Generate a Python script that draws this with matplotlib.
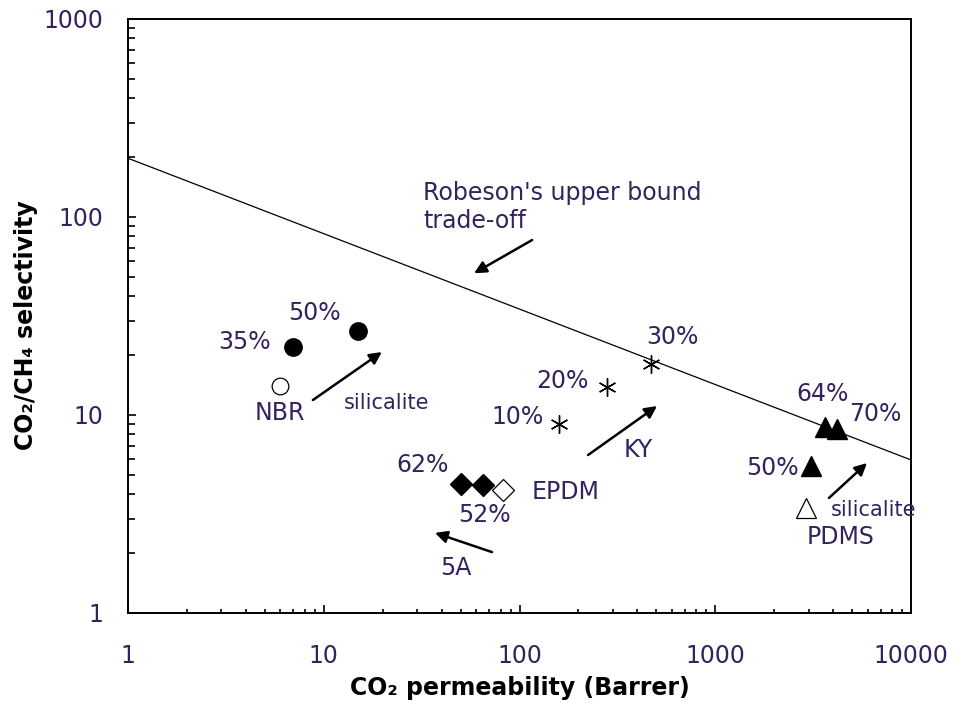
import matplotlib
matplotlib.use("Agg")
import matplotlib.pyplot as plt
from matplotlib.ticker import LogLocator, NullFormatter, FixedLocator, FixedFormatter

# NBR filled with silicalite
nbr_x, nbr_y = [6.0], [14.0]
nbr_sil_x = [7.0, 15.0]
nbr_sil_y = [22.0, 26.5]
nbr_sil_lab = ["35%", "50%"]

# EPDM filled with zeolite 5A
epdm_x, epdm_y = [82.0], [4.2]
epdm_5a_x = [50.0, 65.0]
epdm_5a_y = [4.5, 4.45]
epdm_5a_lab = ["62%", "52%"]

# KY zeolite loadings
ky_x = [160.0, 280.0, 470.0]
ky_y = [9.0, 13.8, 18.0]
ky_lab = ["10%", "20%", "30%"]

# PDMS filled with silicalite
pdms_x, pdms_y = [2900.0], [3.4]
pdms_sil_x = [3100.0, 3650.0, 4200.0]
pdms_sil_y = [5.5, 8.7, 8.5]
pdms_sil_lab = ["50%", "64%", "70%"]

# Robeson 1991 upper bound end points
rob_x = [1.0, 10000.0]
rob_y = [198.0, 5.93]

TXT = "#33225e"
FS = 17

fig = plt.figure(figsize=(9.55, 7.04), dpi=100)
ax = fig.add_axes([128 / 955, 1 - 613 / 704, (911 - 128) / 955, (613 - 19) / 704])
ax.set_xscale("log")
ax.set_yscale("log")
ax.set_xlim(1, 10000)
ax.set_ylim(1, 1000)

ax.plot(rob_x, rob_y, color="black", lw=0.9, zorder=2)

ax.plot(nbr_sil_x, nbr_sil_y, "o", ms=12.5, color="black", ls="none", zorder=3)
ax.plot(nbr_x, nbr_y, "o", ms=12, mfc="white", mec="black", mew=0.9, ls="none", zorder=3)
ax.plot(epdm_5a_x, epdm_5a_y, "D", ms=11, color="black", ls="none", zorder=3)
ax.plot(epdm_x, epdm_y, "D", ms=11, mfc="white", mec="black", mew=0.9, ls="none", zorder=3)
ax.plot(ky_x, ky_y, marker=(6, 2, 0), ms=13, color="black", mew=1.0, ls="none", zorder=3)
ax.plot(pdms_sil_x[:1], pdms_sil_y[:1], "^", ms=15, color="black", ls="none", zorder=3)
ax.plot(pdms_sil_x[1:], pdms_sil_y[1:], "^", ms=14, color="black", ls="none", zorder=3)
ax.plot(pdms_x, pdms_y, "^", ms=15, mfc="white", mec="black", mew=0.9, ls="none", zorder=3)

# point labels
lab_pos = {
    "35%": (3.95, 23.4), "50%": (9.0, 32.7), "NBR": (5.98, 10.2),
    "10%": (98, 9.77), "20%": (165, 14.9), "30%": (601, 24.8), "KY": (403, 6.66),
    "62%": (31.8, 5.59), "52%": (65.9, 3.13), "EPDM": (171, 4.08), "5A": (47.4, 1.69),
    "64%": (3550, 12.8), "70%": (6550, 10.1), "50% ": (1950, 5.4), "PDMS": (4390, 2.42),
}
for t, (x, y) in lab_pos.items():
    ax.text(x, y, t.strip(), fontsize=FS, color=TXT, ha="center", va="center")
ax.text(21.0, 11.5, "silicalite", fontsize=15, color=TXT, ha="center", va="center")
ax.text(6470, 3.31, "silicalite", fontsize=15, color=TXT, ha="center", va="center")
ax.text(32.1, 112, "Robeson's upper bound\ntrade-off", fontsize=FS, color=TXT,
        ha="left", va="center", linespacing=1.2)

arrows = [
    ((8.8, 11.9), (19.8, 20.8)),
    ((224, 6.28), (504, 11.1)),
    ((72.4, 2.03), (37, 2.54)),
    ((3810, 3.81), (5960, 5.72)),
    ((116, 76.5), (58.6, 52)),
]
for tail, head in arrows:
    ax.annotate("", xy=head, xytext=tail,
                arrowprops=dict(arrowstyle="-|>", color="black", lw=1.8,
                                mutation_scale=18, shrinkA=0, shrinkB=0))

for s in ax.spines.values():
    s.set_linewidth(1.4)

ax.xaxis.set_major_locator(FixedLocator([1, 10, 100, 1000, 10000]))
ax.xaxis.set_major_formatter(FixedFormatter(["1", "10", "100", "1000", "10000"]))
ax.yaxis.set_major_locator(FixedLocator([1, 10, 100, 1000]))
ax.yaxis.set_major_formatter(FixedFormatter(["1", "10", "100", "1000"]))
ax.xaxis.set_minor_locator(LogLocator(base=10, subs=range(2, 10), numticks=20))
ax.yaxis.set_minor_locator(LogLocator(base=10, subs=range(2, 10), numticks=20))
ax.xaxis.set_minor_formatter(NullFormatter())
ax.yaxis.set_minor_formatter(NullFormatter())
ax.tick_params(which="both", direction="in", top=False, right=False,
               labelsize=FS, labelcolor=TXT, width=1.2)
ax.tick_params(axis="x", which="major", length=6, pad=22)
ax.tick_params(axis="x", which="minor", length=3)
ax.tick_params(axis="y", which="major", length=6, pad=18)
ax.tick_params(axis="y", which="minor", length=5)

ax.set_xlabel("CO₂ permeability (Barrer)", fontsize=FS, fontweight="bold", labelpad=6)
ax.set_ylabel("CO₂/CH₄ selectivity", fontsize=FS, fontweight="bold")
ax.yaxis.set_label_coords(-0.115, 0.485)

fig.savefig("out.png", dpi=100)
